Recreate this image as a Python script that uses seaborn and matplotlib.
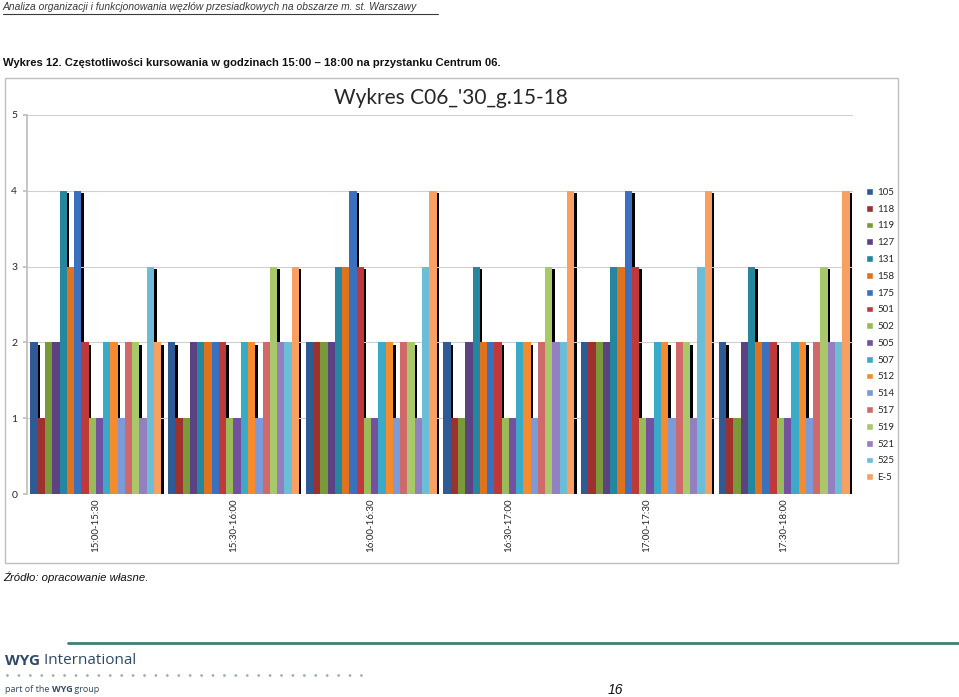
import pandas as pd
import matplotlib.pyplot as plt
import seaborn as sns
from matplotlib.patches import Rectangle
from matplotlib.lines import Line2D

# Data
intervals = ["15:00-15:30", "15:30-16:00", "16:00-16:30",
             "16:30-17:00", "17:00-17:30", "17:30-18:00"]
lines = ["105", "118", "119", "127", "131", "158", "175", "501", "502",
         "505", "507", "512", "514", "517", "519", "521", "525", "E-5"]

freq_1500 = [2, 1, 2, 2, 4, 3, 4, 2, 1, 1, 2, 2, 1, 2, 2, 1, 3, 2]
freq_1530 = [2, 1, 1, 2, 2, 2, 2, 2, 1, 1, 2, 2, 1, 2, 3, 2, 2, 3]
freq_1600 = [2, 2, 2, 2, 3, 3, 4, 3, 1, 1, 2, 2, 1, 2, 2, 1, 3, 4]
freq_1630 = [2, 1, 1, 2, 3, 2, 2, 2, 1, 1, 2, 2, 1, 2, 3, 2, 2, 4]
freq_1700 = [2, 2, 2, 2, 3, 3, 4, 3, 1, 1, 2, 2, 1, 2, 2, 1, 3, 4]
freq_1730 = [2, 1, 1, 2, 3, 2, 2, 2, 1, 1, 2, 2, 1, 2, 3, 2, 2, 4]

colors = ["#2E5B96", "#9E302D", "#7A9A3A", "#5C4282", "#24869F", "#E0721E",
          "#3A70C0", "#C0393A", "#9BBB59", "#7350A0", "#3AAAC8", "#F68B2E",
          "#7A9ADA", "#D06A6A", "#A9C86A", "#9480C0", "#6CBED8", "#F9A060"]

all_freqs = [freq_1500, freq_1530, freq_1600, freq_1630, freq_1700, freq_1730]
rows = []
for interval, freqs in zip(intervals, all_freqs):
    for line, f in zip(lines, freqs):
        rows.append({"interval": interval, "line": line, "freq": f})
df = pd.DataFrame(rows)

sns.set_theme(style="white")
plt.rcParams["font.family"] = ["Lato", "DejaVu Sans"]

fig = plt.figure(figsize=(9.59, 6.97), dpi=100)
W, H = 959, 697

def fx(x):
    return x / W

def fy(y):
    return 1 - y / H

# chart frame
fig.add_artist(Rectangle((fx(5), fy(563)), fx(893), 485 / H, transform=fig.transFigure,
                         fill=False, edgecolor="#BFBFBF", linewidth=1))

ax = fig.add_axes([fx(27), fy(494), fx(826), (494 - 115) / H])
sns.barplot(data=df, x="interval", y="freq", hue="line", hue_order=lines,
            palette=colors, width=0.95, gap=0, saturation=1, ax=ax,
            legend=False, linewidth=0)

# Excel-like drop shadow behind each bar
for cont in ax.containers:
    for bar in cont:
        h = bar.get_height()
        w = bar.get_width()
        ax.add_patch(Rectangle((bar.get_x() + w * 0.35, 0), w, h - 0.03,
                               facecolor="black", edgecolor="none", zorder=bar.get_zorder() - 0.5))

ax.set_ylim(0, 5)
ax.set_xlim(-0.5, len(intervals) - 0.5)
ax.set_yticks(range(6))
ax.yaxis.grid(True, color="#D0D0D0", linewidth=0.8)
ax.set_axisbelow(True)
for s in ["top", "right", "bottom"]:
    ax.spines[s].set_visible(False)
ax.spines["left"].set_color("#BFBFBF")
ax.tick_params(axis="y", labelsize=7.5, length=3, color="#BFBFBF", pad=4, left=True)
ax.tick_params(axis="x", labelsize=7, length=0, rotation=90, pad=3)
ax.set_xlabel("")
ax.set_ylabel("")

fig.text(fx(451), fy(98), "Wykres C06_'30_g.15-18", fontsize=15, ha="center", va="center")

handles = [Rectangle((0, 0), 1, 1, facecolor=c) for c in colors]
fig.legend(handles, lines, loc="upper left", bbox_to_anchor=(fx(862), fy(184)),
           fontsize=7, frameon=False, labelspacing=0.8, handlelength=0.7,
           handleheight=0.7, handletextpad=0.5, borderaxespad=0)

# page texts
narrow = ["Liberation Sans Narrow", "Liberation Sans", "DejaVu Sans"]
fig.text(fx(3), fy(7), "Analiza organizacji i funkcjonowania węzłów przesiadkowych na obszarze m. st. Warszawy",
         fontsize=7.4, style="italic", color="#3A3A3A", ha="left", va="center", family=narrow)
fig.add_artist(Line2D([fx(3), fx(438)], [fy(13.5), fy(13.5)], transform=fig.transFigure,
                      color="#3A3A3A", linewidth=0.8))
fig.text(fx(3), fy(63), "Wykres 12. Częstotliwości kursowania w godzinach 15:00 – 18:00 na przystanku Centrum 06.",
         fontsize=8.1, weight="bold", color="#111111", ha="left", va="center", family=narrow)
fig.text(fx(3), fy(577), "Źródło: opracowanie własne.", fontsize=8.2, style="italic",
         color="#111111", ha="left", va="center", family=narrow)

# footer
wyg = "#2E4A6A"
ffam = ["Open Sans", "DejaVu Sans"]
fig.add_artist(Line2D([fx(68), fx(959)], [fy(643), fy(643)], transform=fig.transFigure,
                      color="#3D7E78", linewidth=2))
t1 = ax.annotate("WYG", xy=(fx(5), fy(661)), xycoords="figure fraction", fontsize=11,
                 weight="bold", color=wyg, ha="left", va="center", family=ffam,
                 annotation_clip=False)
ax.annotate(" International", xy=(1, 0.5), xycoords=t1, fontsize=11, color=wyg,
            ha="left", va="center", family=ffam, annotation_clip=False)
fig.add_artist(Line2D([fx(7), fx(367)], [fy(675), fy(675)], transform=fig.transFigure,
                      color="#9AA8B8", linewidth=2, linestyle=(0, (0.01, 4.1)),
                      dash_capstyle="round"))
p1 = ax.annotate("part of the ", xy=(fx(5), fy(689)), xycoords="figure fraction", fontsize=6.5,
                 color=wyg, ha="left", va="center", family=ffam, annotation_clip=False)
p2 = ax.annotate("WYG", xy=(1, 0.5), xycoords=p1, fontsize=6.5, weight="bold", color=wyg,
                 ha="left", va="center", family=ffam, annotation_clip=False)
ax.annotate(" group", xy=(1, 0.5), xycoords=p2, fontsize=6.5, color=wyg,
            ha="left", va="center", family=ffam, annotation_clip=False)
fig.text(fx(615), fy(690), "16", fontsize=10, style="italic", color="#111111",
         ha="center", va="center", family=narrow)

fig.savefig("out.png", dpi=100)
